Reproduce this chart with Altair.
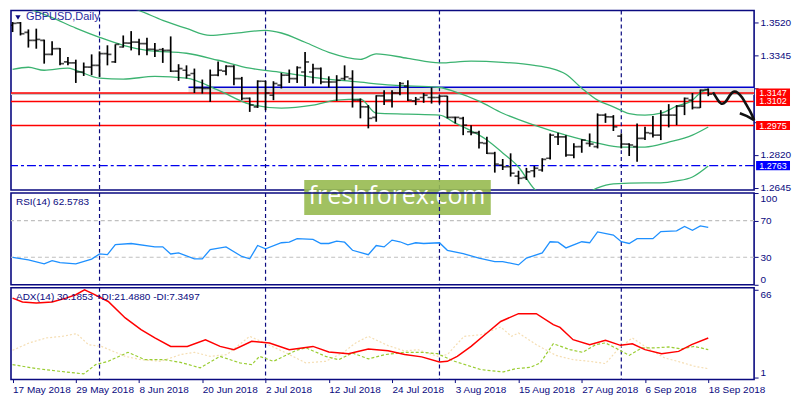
import altair as alt
import pandas as pd

# ---------------- data ----------------
bar_index = list(range(89))
opens = [1.3505,1.3518,1.3467,1.3425,1.3425,1.3351,1.3381,1.3311,1.3306,1.3258,
         1.3284,1.3293,1.3355,1.3311,1.3390,1.3411,1.3416,1.3408,1.3378,1.3376,
         1.3372,1.3262,1.3267,1.3250,1.3174,1.3171,1.3241,1.3262,1.3288,1.3223,
         1.3118,1.3074,1.3209,1.3135,1.3188,1.3241,1.3223,1.3258,1.3258,1.3276,
         1.3205,1.3205,1.3223,1.3223,1.3109,1.3074,1.3018,1.3132,1.3109,1.3147,
         1.3183,1.3105,1.3123,1.3123,1.3123,1.3130,1.3018,1.3013,1.2942,1.2937,
         1.2881,1.2828,1.2766,1.2757,1.2708,1.2700,1.2736,1.2740,1.2802,1.2915,
         1.2915,1.2819,1.2863,1.2881,1.2863,1.3030,1.3021,1.2919,1.2877,1.2863,
         1.2907,1.2933,1.2924,1.3030,1.3030,1.3077,1.3109,1.3070,1.3165]
highs = [1.3522,1.3522,1.3483,1.3487,1.3429,1.3420,1.3385,1.3337,1.3323,1.3308,
         1.3351,1.3367,1.3399,1.3404,1.3451,1.3474,1.3434,1.3439,1.3411,1.3385,
         1.3446,1.3299,1.3293,1.3276,1.3218,1.3271,1.3314,1.3293,1.3293,1.3232,
         1.3123,1.3214,1.3211,1.3209,1.3253,1.3271,1.3288,1.3363,1.3302,1.3281,
         1.3235,1.3241,1.3293,1.3267,1.3118,1.3083,1.3135,1.3162,1.3162,1.3205,
         1.3214,1.3126,1.3147,1.3176,1.3135,1.3132,1.3021,1.3021,1.2977,1.2947,
         1.2915,1.2836,1.2798,1.2828,1.2736,1.2751,1.2761,1.2802,1.2933,1.2937,
         1.2924,1.2881,1.2902,1.2933,1.3039,1.3039,1.3030,1.2933,1.2881,1.2986,
         1.2968,1.3025,1.3056,1.3088,1.3083,1.3123,1.3147,1.3165,1.3171]
lows = [1.3469,1.3451,1.3387,1.3381,1.3302,1.3346,1.3293,1.3293,1.3200,1.3237,
        1.3241,1.3232,1.3293,1.3306,1.3387,1.3372,1.3346,1.3346,1.3337,1.3306,
        1.3258,1.3211,1.3223,1.3147,1.3144,1.3100,1.3235,1.3241,1.3188,1.3109,
        1.3047,1.3068,1.3056,1.3109,1.3171,1.3200,1.3200,1.3183,1.3197,1.3193,
        1.3176,1.3105,1.3214,1.3070,1.3013,1.2960,1.2995,1.3083,1.3070,1.3135,
        1.3105,1.3083,1.3095,1.3091,1.3091,1.3013,1.2986,1.2924,1.2924,1.2854,
        1.2824,1.2726,1.2740,1.2705,1.2665,1.2687,1.2701,1.2731,1.2796,1.2872,
        1.2810,1.2802,1.2831,1.2863,1.2854,1.2989,1.2946,1.2854,1.2814,1.2784,
        1.2898,1.2912,1.2898,1.2965,1.2977,1.3030,1.3060,1.3068,1.3130]
closes = [1.3515,1.3460,1.3425,1.3430,1.3351,1.3381,1.3302,1.3306,1.3258,1.3284,
          1.3293,1.3355,1.3351,1.3404,1.3411,1.3416,1.3408,1.3378,1.3372,1.3372,
          1.3262,1.3276,1.3241,1.3174,1.3171,1.3241,1.3267,1.3288,1.3223,1.3118,
          1.3083,1.3209,1.3147,1.3197,1.3241,1.3223,1.3281,1.3311,1.3276,1.3205,
          1.3205,1.3214,1.3232,1.3109,1.3074,1.3013,1.3132,1.3109,1.3147,1.3197,
          1.3109,1.3113,1.3135,1.3123,1.3130,1.3018,1.3018,1.2977,1.2937,1.2884,
          1.2828,1.2771,1.2757,1.2723,1.2696,1.2730,1.2749,1.2796,1.2924,1.2915,
          1.2819,1.2863,1.2898,1.2877,1.3030,1.3021,1.2968,1.2877,1.2872,1.2907,
          1.2937,1.2924,1.3030,1.3030,1.3077,1.3118,1.3070,1.3162,1.3141]

bb_up_idx = [0,8,12,16,19,22,25,28,32,34,37,40,44,46,50,54,58,62,66,68,70,72,74,76,78,80,82,84,86,87,88]
bb_up = [1.3760,1.3700,1.3636,1.3583,1.3531,1.3488,1.3451,1.3462,1.3478,1.3464,
         1.3415,1.3362,1.3325,1.3354,1.3330,1.3306,1.3315,1.3309,1.3293,1.3278,
         1.3246,1.3172,1.3109,1.3074,1.3038,1.3030,1.3040,1.3077,1.3109,1.3148,1.3167]
bb_mid_idx = [0,5,8,11,14,17,22,26,30,34,38,44,48,54,56,59,62,66,70,74,77,80,83,86,88]
bb_mid = [1.3625,1.3545,1.3490,1.3441,1.3399,1.3372,1.3357,1.3320,1.3278,1.3256,
          1.3230,1.3204,1.3188,1.3176,1.3153,1.3104,1.3040,1.2977,1.2924,1.2882,
          1.2861,1.2861,1.2887,1.2924,1.2967]
bb_low_idx = [0,2,4,7,8,11,14,18,22,26,30,34,38,41,44,46,50,54,56,60,62,64,66,68,70,72,74,76,80,82,84,86,88]
bb_low = [1.3272,1.3283,1.3267,1.3278,1.3267,1.3225,1.3220,1.3235,1.3225,1.3162,
          1.3088,1.3067,1.3083,1.3109,1.3114,1.3040,1.3035,1.3030,1.2988,1.2898,
          1.2830,1.2756,1.2640,1.2590,1.2580,1.2600,1.2645,1.2666,1.2672,1.2672,
          1.2682,1.2703,1.2761]

rsi_idx = [0,2,4,5,6,8,10,11,12,13,15,18,19,20,21,23,24,25,27,29,30,31,32,34,35,36,38,39,40,41,
           42,43,45,46,47,48,49,50,51,52,54,55,57,59,61,62,64,65,67,68,69,70,72,73,74,76,77,78,79,81,
           82,84,85,86,87,88]
rsi_val = [29.8,27.2,22.8,26.4,24.2,22.8,28.0,33.6,32.8,43.9,45.0,41.3,41.3,33.6,34.7,28.3,28.3,38.3,41.3,30.9,
           28.3,42.8,39.1,45.8,46.4,50.2,49.4,45.0,45.0,47.6,46.4,37.6,32.8,42.8,41.3,48.7,46.9,43.6,45.8,45.0,
           45.8,37.6,33.9,29.1,25.3,25.3,21.7,29.1,34.7,46.9,46.4,40.2,46.9,45.8,57.6,54.2,46.9,45.0,50.2,50.2,
           58.0,58.7,63.6,59.4,64.2,62.6]

adx_idx = [0,1.25,3,5,6.75,8,9.1,10,12.1,14.25,16.25,18,20,22.1,24.4,26.25,28,30.25,32.5,35,
           38,40,42.5,45,47.5,49.6,51.75,54,55,56.25,58,60,61.75,64,66.25,68.4,69.25,70.9,73,75,
           76.9,78.4,80,82.1,84.25,85.9,88]
adx_val = [59.9,57.0,56.2,57.0,59.9,62.4,66.1,63.6,57.4,45.1,36.4,30.2,23.9,23.9,28.9,23.9,21.5,27.7,26.5,21.5,
           23.9,19.8,18.5,22.0,20.7,17.8,16.1,12.3,12.8,16.5,23.9,33.9,42.5,48.3,48.3,40.1,38.1,28.9,25.2,28.4,
           24.7,25.9,21.5,18.5,20.2,25.2,30.2]
pdi_idx = [0,3,5.9,9,10.5,12.1,14.6,16.75,19.25,21.25,23.75,26.25,28.75,30.25,31.25,33,35.9,37.1,39.6,41.25,
           43,45,47.1,49.6,51.75,53.75,55.9,59.25,62.1,63.75,65.5,66.75,68.4,70.5,72.1,73.75,75,76.25,78,79.6,
           81.25,83,84.6,86.25,88]
pdi_val = [10.3,7.4,5.4,3.4,10.3,12.8,19.5,14.0,14.0,12.0,7.9,16.5,11.6,10.3,16.5,12.8,21.0,22.9,16.5,14.0,
           19.0,14.6,17.8,19.5,19.5,18.5,12.8,6.6,4.9,7.4,8.3,11.6,25.9,21.5,19.5,25.2,26.5,22.8,17.2,22.8,
           22.8,23.5,22.0,23.9,21.5]
mdi_idx = [0,2.1,4.25,6.25,8.1,9.6,11.25,14.25,16.25,18.75,21.25,23,25,27.1,30,32.1,34.6,37.1,39.6,41.75,
           43.4,45,47.5,49.6,51.25,53.75,55,57.1,59.25,61.75,63.1,64,66.25,68.75,70.9,73,75,76.75,78.4,80,
           82.5,84.6,86.25,88]
mdi_val = [21.0,26.5,30.2,31.4,33.4,25.2,23.9,16.5,14.0,12.8,17.8,19.5,16.5,17.8,31.4,25.9,19.0,11.6,12.8,19.0,
           26.5,31.4,24.5,20.5,21.5,16.5,17.8,31.4,32.6,38.4,31.4,33.9,25.2,17.2,14.0,12.8,11.1,22.8,30.2,23.9,
           15.3,12.0,9.1,7.3]

date_labels = ['17 May 2018','29 May 2018','8 Jun 2018','20 Jun 2018','2 Jul 2018','12 Jul 2018',
               '24 Jul 2018','3 Aug 2018','15 Aug 2018','27 Aug 2018','6 Sep 2018','18 Sep 2018']
date_label_idx = [0,8,16,24,32,40,48,56,64,72,80,88]
separator_idx = [11,32,54,77]
price_ticks = [1.3520,1.3345,1.3170,1.2995,1.2820,1.2645]
price_ticks_shown = [1.3520,1.3345,1.2820,1.2645]
red_levels = [1.3147,1.3102,1.2975]
blue_dash_level = [1.2763]
X_END = 93.8
zone = {"x": [22.25], "x2": [X_END], "top": [1.3177], "bottom": [1.3141]}
bid_level = [1.3141]
arrow_idx = [88.6,89.2,89.6,90.2,90.7,91.2,91.7,92.3,92.8,93.4,93.8]
arrow_price = [1.3150,1.3110,1.3085,1.3095,1.3135,1.3158,1.3152,1.3125,1.3085,1.3045,1.3004]
arrow_head_idx = [92.0,92.9,93.8]
arrow_head_price = [1.3040,1.3025,1.3004]
rsi_levels = [30,70]
title_price = "GBPUSD,Daily"
title_rsi = "RSI(14) 62.5783"
title_adx = "ADX(14) 30.1853 +DI:21.4880 -DI:7.3497"
watermark = "freshforex.com"

# ---------------- styling ----------------
W = 745
NAVY = "#0a0a80"
FONT = "Liberation Sans"
xs = alt.Scale(domain=[-0.2, X_END], nice=False, zero=False)
ps = alt.Scale(domain=[1.2634, 1.3583], nice=False, zero=False)
rs = alt.Scale(domain=[0, 100], nice=False, zero=False)
ads = alt.Scale(domain=[-0.8, 67.6], nice=False, zero=False)

def yaxis(values, fmt=None, **kw):
    args = dict(values=values, orient="right", grid=False, domain=False, tickColor=NAVY,
                tickSize=4, labelColor=NAVY, labelFont=FONT, labelFontSize=10,
                labelPadding=2, title=None, labelOverlap=False)
    if fmt:
        args["format"] = fmt
    args.update(kw)
    return alt.Axis(**args)

shown_expr = ("indexof([" + ",".join(str(v) for v in price_ticks_shown) +
              "], datum.value) >= 0 ? format(datum.value, '.4f') : ''")
pax = yaxis(price_ticks, ".4f", labelExpr=shown_expr)
rax = yaxis([0, 30, 70, 100], labelFlush=True)
aax = yaxis([1, 66], labelBaseline={"condition": {"test": "datum.value > 30", "value": "top"}, "value": "bottom"})

def X(f="i:Q", axis=None):
    return alt.X(f, scale=xs, axis=axis)

def PY(f):
    return alt.Y(f, scale=ps, axis=pax)

# ---------------- price panel ----------------
ohlc = pd.DataFrame(dict(i=bar_index, o=opens, h=highs, l=lows, c=closes))
zone_df = pd.DataFrame(zone)

zone_rect = alt.Chart(zone_df).mark_rect(color="#e4e4e4").encode(
    x=X("x:Q"), x2="x2:Q", y=PY("top:Q"), y2="bottom:Q")
bid_rule = alt.Chart(pd.DataFrame({"p": bid_level})).mark_rule(color="#c8c8c8", strokeWidth=2).encode(y=PY("p:Q"))
red_rules = alt.Chart(pd.DataFrame({"p": red_levels})).mark_rule(color="#ff0000", strokeWidth=1.5).encode(y=PY("p:Q"))
blue_rule = alt.Chart(zone_df).mark_rule(color="#0000cc", strokeWidth=1.5).encode(
    x=X("x:Q"), x2="x2:Q", y=PY("top:Q"))
blue_dash = alt.Chart(pd.DataFrame({"p": blue_dash_level})).mark_rule(
    color="#0000ee", strokeWidth=1.5, strokeDash=[9, 3, 3, 3]).encode(y=PY("p:Q"))
sep_df = pd.DataFrame({"i": separator_idx})
seps = alt.Chart(sep_df).mark_rule(color=NAVY, strokeWidth=1.2, strokeDash=[4, 3]).encode(x=X())

def band(idx, vals):
    return alt.Chart(pd.DataFrame({"i": idx, "p": vals})).mark_line(
        color="#3cb371", strokeWidth=1.3, clip=True, interpolate="monotone").encode(x=X(), y=PY("p:Q"))

hl = alt.Chart(ohlc).mark_rule(color="black", strokeWidth=1.7).encode(x=X(), y=PY("l:Q"), y2="h:Q")
op = alt.Chart(ohlc).mark_tick(color="black", orient="horizontal", size=4, thickness=1.7, xOffset=-2, clip=True).encode(x=X(), y=PY("o:Q"))
cl = alt.Chart(ohlc).mark_tick(color="black", orient="horizontal", size=4, thickness=1.7, xOffset=2).encode(x=X(), y=PY("c:Q"))

arrow = alt.Chart(pd.DataFrame({"i": arrow_idx, "p": arrow_price, "k": range(len(arrow_idx))})).mark_line(
    color="#111111", strokeWidth=2.6, clip=False, interpolate="basis").encode(x=X(), y=PY("p:Q"), order="k:Q")
arrow_head = alt.Chart(pd.DataFrame({"i": arrow_head_idx, "p": arrow_head_price, "k": range(3)})).mark_line(
    color="#111111", strokeWidth=2.6, clip=False).encode(x=X(), y=PY("p:Q"), order="k:Q")

tag_shape = "M-1,-0.27L1,-0.27L1,0.27L-1,0.27Z"
red_tags = alt.Chart(pd.DataFrame({"p": red_levels})).mark_point(
    shape=tag_shape, filled=True, size=1156, color="#ff0000", opacity=1).encode(x=alt.value(W + 19), y=PY("p:Q"))
blue_tag = alt.Chart(pd.DataFrame({"p": blue_dash_level})).mark_point(
    shape=tag_shape, filled=True, size=1156, color="#0000ff", opacity=1).encode(x=alt.value(W + 19), y=PY("p:Q"))
tag_df = pd.DataFrame({"p": red_levels + blue_dash_level})
tag_text = alt.Chart(tag_df).mark_text(color="white", font=FONT, fontSize=9, align="center", baseline="middle").encode(
    x=alt.value(W + 19), y=PY("p:Q"), text=alt.Text("p:Q", format=".4f"))

tri = alt.Chart(pd.DataFrame({"t": [title_price]})).mark_point(
    shape="triangle-down", filled=True, size=28, color=NAVY, opacity=1).encode(x=alt.value(7), y=alt.value(7))
ttl = alt.Chart(pd.DataFrame({"t": [title_price]})).mark_text(
    align="left", baseline="middle", color="#2a2aa0", font=FONT, fontSize=11).encode(
    x=alt.value(15), y=alt.value(7), text="t:N")

wm_df = pd.DataFrame({"t": [watermark]})
wm_rect = alt.Chart(wm_df).mark_rect(color="#97ba50", opacity=0.9, clip=False).encode(
    x=alt.value(294), x2=alt.value(481), y=alt.value(170), y2=alt.value(205))
wm_text = alt.Chart(wm_df).mark_text(color="white", font="Open Sans", fontSize=25, align="center",
                                     baseline="middle").encode(x=alt.value(387), y=alt.value(186), text="t:N")

price = alt.layer(
    zone_rect, bid_rule, red_rules, blue_rule, blue_dash, seps,
    band(bb_up_idx, bb_up), band(bb_mid_idx, bb_mid), band(bb_low_idx, bb_low),
    hl, op, cl, arrow, arrow_head, red_tags, blue_tag, tag_text, tri, ttl, wm_rect, wm_text
).properties(width=W, height=180)

# ---------------- RSI panel ----------------
RY = lambda f: alt.Y(f, scale=rs, axis=rax)
rsi_lv = alt.Chart(pd.DataFrame({"v": rsi_levels})).mark_rule(color="#c0c0c0", strokeWidth=1.2, strokeDash=[4, 3]).encode(y=RY("v:Q"))
rsi_sep = alt.Chart(sep_df).mark_rule(color=NAVY, strokeWidth=1.2, strokeDash=[4, 3]).encode(x=X())
rsi_line = alt.Chart(pd.DataFrame({"i": rsi_idx, "v": rsi_val})).mark_line(color="#1e90ff", strokeWidth=1.3).encode(
    x=X(), y=RY("v:Q"))
rsi_t = alt.Chart(pd.DataFrame({"t": [title_rsi]})).mark_text(
    align="left", baseline="middle", color=NAVY, font=FONT, fontSize=10).encode(x=alt.value(5), y=alt.value(9), text="t:N")
rsi = alt.layer(rsi_lv, rsi_sep, rsi_line, rsi_t).properties(width=W, height=92)

# ---------------- ADX panel ----------------
AY = lambda f: alt.Y(f, scale=ads, axis=aax)
xax = alt.Axis(values=date_label_idx,
               labelExpr="[" + ",".join("'%s'" % d for d in date_labels) + "][round(datum.value/8)]",
               labelAlign="left", labelAngle=0, labelBaseline="top", tickSize=3, tickColor=NAVY,
               labelColor=NAVY, labelFont=FONT, labelFontSize=10, labelPadding=2, domain=False,
               grid=False, labelFlush=False, labelOverlap=False, title=None)
adx_sep = alt.Chart(sep_df).mark_rule(color=NAVY, strokeWidth=1.2, strokeDash=[4, 3]).encode(x=X("i:Q", xax))
mdi = alt.Chart(pd.DataFrame({"i": mdi_idx, "v": mdi_val})).mark_line(
    color="#f5deb3", strokeWidth=1.2, strokeDash=[2, 2]).encode(x=X("i:Q", xax), y=AY("v:Q"))
pdi = alt.Chart(pd.DataFrame({"i": pdi_idx, "v": pdi_val})).mark_line(
    color="#9acd32", strokeWidth=1.2, strokeDash=[3, 2]).encode(x=X("i:Q", xax), y=AY("v:Q"))
adx = alt.Chart(pd.DataFrame({"i": adx_idx, "v": adx_val})).mark_line(
    color="#ff0000", strokeWidth=1.5).encode(x=X("i:Q", xax), y=AY("v:Q"))
adx_t = alt.Chart(pd.DataFrame({"t": [title_adx]})).mark_text(
    align="left", baseline="middle", color=NAVY, font=FONT, fontSize=10).encode(x=alt.value(5), y=alt.value(9), text="t:N")
adx_panel = alt.layer(adx_sep, mdi, pdi, adx, adx_t).properties(width=W, height=92)

chart = alt.vconcat(price, rsi, adx_panel, spacing=3, bounds="flush").properties(
    padding={"left": 0, "top": 0, "right": 0, "bottom": 0}, background="white"
).configure_view(stroke=NAVY, strokeWidth=1.6)

chart.save("out.html", embed_options={"renderer": "svg", "actions": False})
